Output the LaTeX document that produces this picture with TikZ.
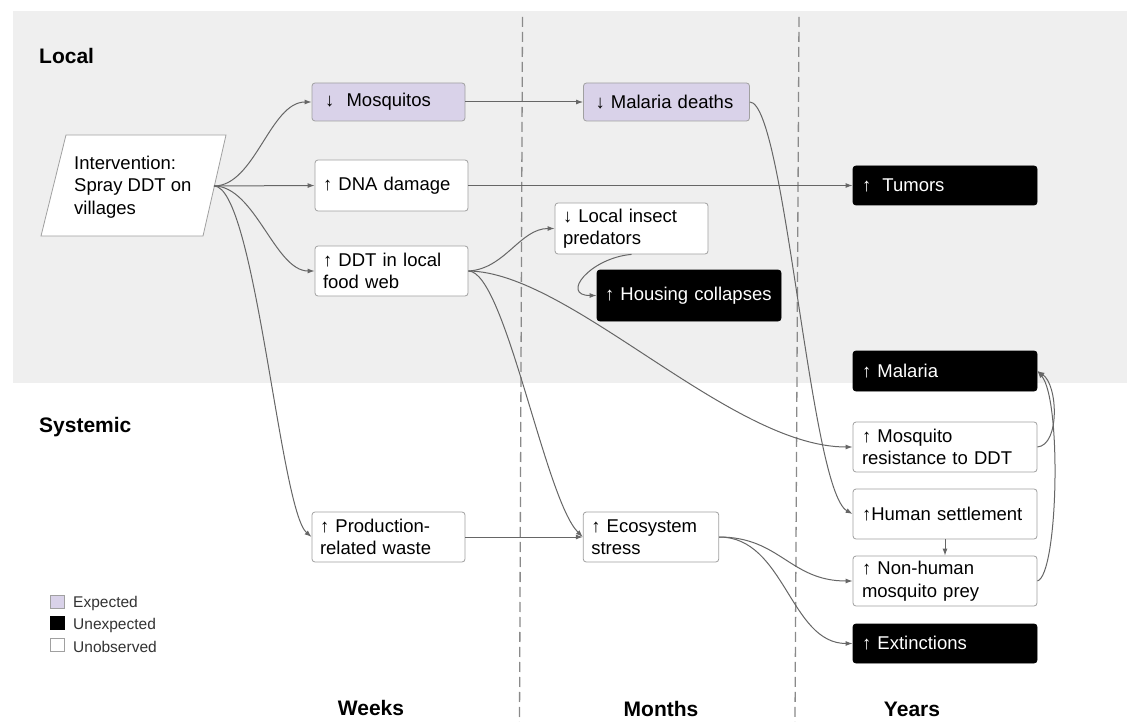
\documentclass[tikz,border=0pt]{standalone}
\usepackage{fontspec}
\setmainfont{Liberation Sans}
\usetikzlibrary{arrows.meta}
\definecolor{bgcol}{HTML}{EFEFEF}
\definecolor{lav}{HTML}{D9D2E9}
\definecolor{bord}{HTML}{A0A0A0}
\definecolor{conncol}{HTML}{666666}
\definecolor{dashcol}{HTML}{8A8A8A}
\definecolor{legtxt}{HTML}{333333}
\tikzset{
  box/.style={draw=bord, line width=0.8pt, rounded corners=3pt, align=left, inner ysep=0pt,
    font=\fontsize{18.5}{22.5}\selectfont, text=black},
  wbox/.style={box, fill=white},
  pbox/.style={box, fill=lav},
  bbox/.style={box, fill=black, draw=black, text=white},
  conn/.style={draw=conncol, line width=1pt, -{Latex[length=7pt,width=5pt]}},
  head/.style={font=\bfseries\fontsize{21}{25}\selectfont, text=black, inner sep=0pt},
  legsq/.style={draw=bord, line width=0.7pt},
  legtext/.style={font=\fontsize{15.5}{18}\selectfont, text=legtxt, anchor=west, inner sep=0pt},
  divider/.style={draw=dashcol, line width=1.3pt, dash pattern=on 10pt off 5pt},
}
\begin{document}
\begin{tikzpicture}[x=1pt,y=-1pt]
\useasboundingbox (0,0) rectangle (1127,722);
\fill[white] (0,0) rectangle (1127,722);
% background band
\fill[bgcol] (13,11) rectangle (1127,383);
% dividers
\coordinate (d1t) at (522.5,17); \coordinate (d1b) at (519.5,722);
\coordinate (d2t) at (799,17); \coordinate (d2b) at (795,722);
\draw[divider] (d1t) -- (d1b);
\draw[divider] (d2t) -- (d2b);
% headers
\node[head, anchor=west] (local) at (39,56) {Local};
\node[head, anchor=west] (systemic) at (39,427) {Systemic};
\node[head] (weeks) at (371,708) {Weeks};
\node[head] (months) at (661,709) {Months};
\node[head] (years) at (912,709) {Years};
% intervention
\draw[draw=bord, fill=white, line width=0.8pt] (66,135) -- (226,135) -- (203,236) -- (41,236) -- cycle;
\node[anchor=west, align=left, inner sep=0pt, font=\fontsize{18.5}{22.5}\selectfont] (intv) at (74,187) {Intervention:\\Spray DDT on\\villages};
\coordinate (intvE) at (214,186);
% nodes
\node[pbox, text width=127pt, inner xsep=13pt, minimum height=38pt] (mosq) at (388.5,102) {↓\ \ Mosquitos};
\node[wbox, text width=137pt, inner xsep=8pt, minimum height=51pt] (dna) at (391.5,185.5) {↑ DNA damage};
\node[wbox, text width=137pt, inner xsep=8pt, minimum height=50pt] (ddt) at (391.5,271) {↑ DDT in local\\food web};
\node[wbox, text width=137pt, inner xsep=8pt, minimum height=50pt] (prod) at (388.5,537) {↑ Production-\\related waste};
\node[pbox, text width=142pt, inner xsep=12pt, minimum height=38pt] (mdeath) at (666.5,102) {↓ Malaria deaths};
\node[wbox, text width=137pt, inner xsep=8pt, minimum height=51pt] (pred) at (631.5,228.5) {↓ Local insect\\predators};
\node[bbox, text width=168pt, inner xsep=8pt, minimum height=51pt] (house) at (689,295.5) {↑ Housing collapses};
\node[wbox, text width=119.5pt, inner xsep=8pt, minimum height=50pt] (eco) at (651,537) {↑ Ecosystem\\stress};
\node[bbox, text width=166pt, inner xsep=9pt, minimum height=39pt] (tumors) at (945,185.5) {↑\hspace{5pt} Tumors};
\node[bbox, text width=166pt, inner xsep=9pt, minimum height=40pt] (malaria) at (945,371) {↑ Malaria};
\node[wbox, text width=166pt, inner xsep=9pt, minimum height=50pt] (resist) at (945,447) {↑ Mosquito\\resistance to DDT};
\node[wbox, text width=166pt, inner xsep=9pt, minimum height=50pt] (human) at (945,514) {↑Human settlement};
\node[wbox, text width=166pt, inner xsep=9pt, minimum height=50pt] (nonhuman) at (945,581) {↑ Non-human\\mosquito prey};
\node[bbox, text width=166pt, inner xsep=9pt, minimum height=39pt] (ext) at (945,643.5) {↑ Extinctions};
% legend
\draw[legsq, fill=lav] (50,595) rectangle (64,608);
\draw[legsq, fill=black, draw=black] (50,616) rectangle (64,629);
\draw[legsq, fill=white] (50,638) rectangle (64,651);
\node[legtext] (lexp) at (73,603) {Expected};
\node[legtext] (lunexp) at (73,625) {Unexpected};
\node[legtext] (lunobs) at (73,647) {Unobserved};
% connectors
\draw[conn] (intvE) .. controls (255,186) and (270,102) .. (mosq.west);
\draw[conn] (intvE) -- (dna.west);
\draw[conn] (intvE) .. controls (255,186) and (275,271) .. (ddt.west);
\draw[conn] (intvE) .. controls (255,186) and (280,510) .. (prod.west);
\draw[conn] (mosq.east) -- (mdeath.west);
\draw[conn] (dna.east) -- (tumors.west);
\draw[conn] (ddt.east) .. controls (505,269) and (520,228.5) .. (pred.west);
\draw[conn] (ddt.east) .. controls (570,272) and (730,447) .. (resist.west);
\draw[conn] (ddt.east) .. controls (505,271) and (545,500) .. (eco.west);
\draw[conn] (prod.east) -- (eco.west);
\draw[conn] (pred.south) .. controls (590,258) and (560,295.5) .. (house.west);
\draw[conn] (mdeath.east) .. controls (785,103) and (810,490) .. (human.west);
\draw[conn] (human.south) -- (nonhuman.north);
\draw[conn] (eco.east) .. controls (780,537) and (790,581) .. (nonhuman.west);
\draw[conn] (eco.east) .. controls (785,537) and (790,643.5) .. (ext.west);
\draw[conn] (resist.east) .. controls (1060,445) and (1058,385) .. (malaria.east);
\draw[conn] (nonhuman.east) .. controls (1058,575) and (1062,400) .. (malaria.east);
\end{tikzpicture}
\end{document}
